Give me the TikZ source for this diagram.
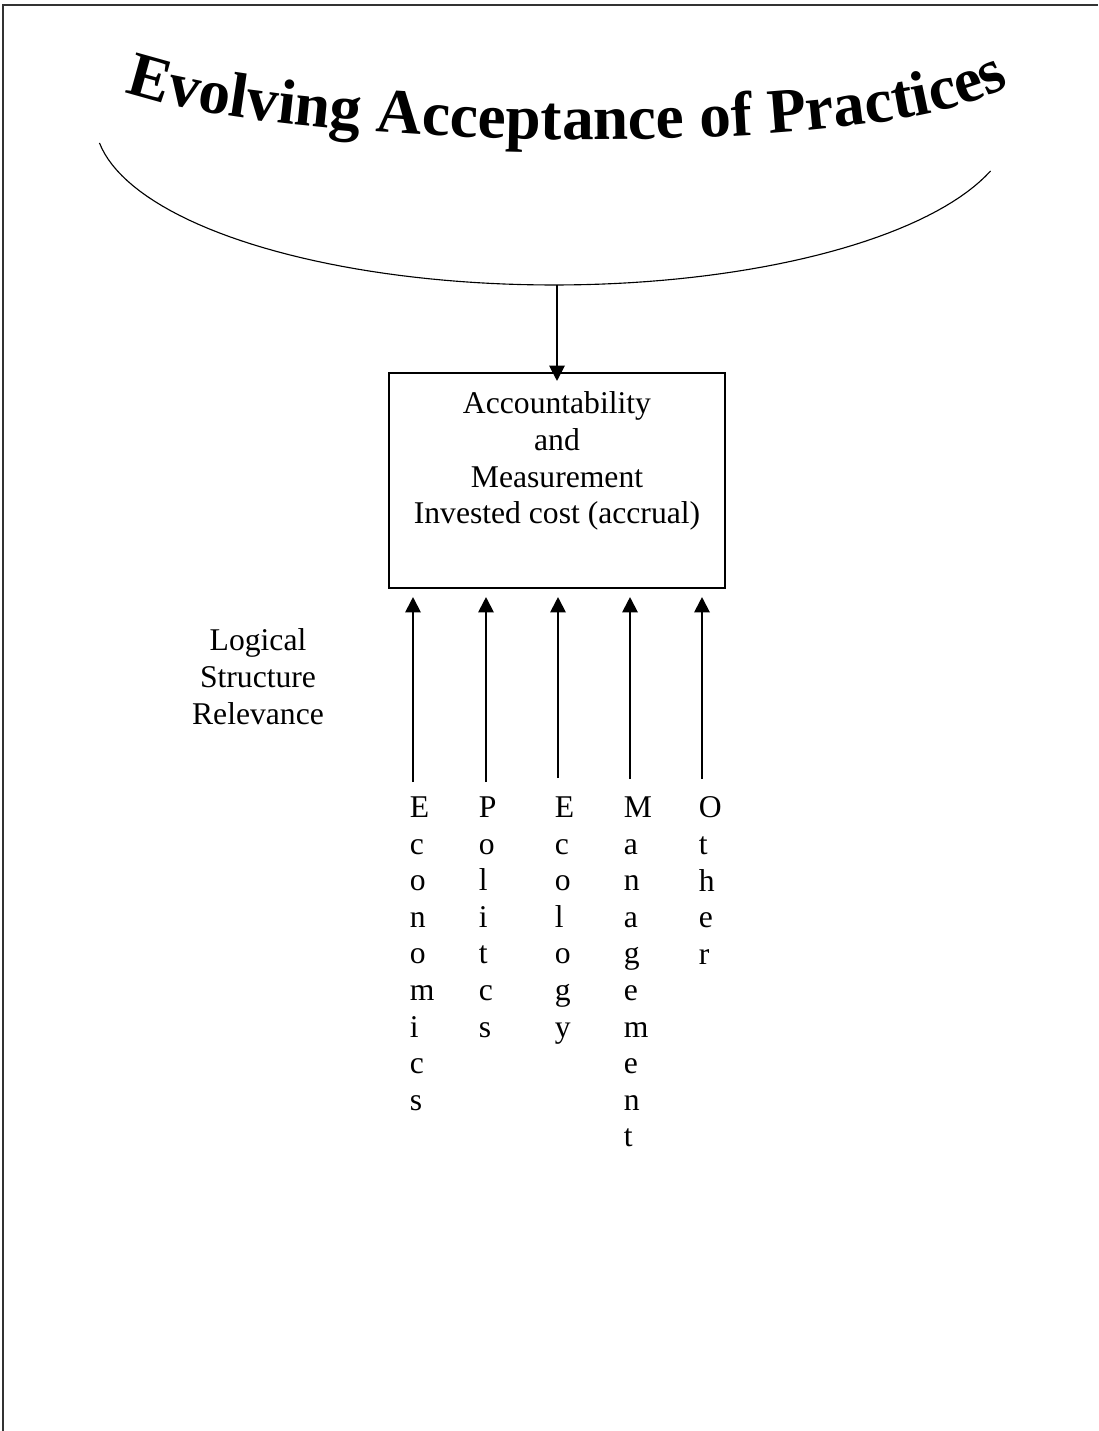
\documentclass[tikz,border=0pt]{standalone}
\usepackage{fontspec}
\setmainfont{Liberation Serif}
\usetikzlibrary{arrows.meta, decorations.text}

\begin{document}
\begin{tikzpicture}[x=0.025cm, y=-0.025cm, >={Triangle[length=11pt, width=11pt]}, line width=1.4pt,
        label node/.style={inner sep=0pt, align=center, font=\fontsize{22.5}{26}\selectfont},
        column node/.style={inner sep=0pt, anchor=north west, align=left, font=\fontsize{22.5}{26}\selectfont}]
    \useasboundingbox (0,0) rectangle (1098,1431);

    % Frame
    \draw[black!80] (3,1431) -- (3,5) -- (1098,5);

    % Title and arch
    \coordinate (t0) at (114,88);
    \coordinate (t1) at (262,150);
    \coordinate (t2) at (905,166);
    \coordinate (t3) at (1018,80);
    \path[decorate, decoration={text along path, text align=center,
        text={|\fontsize{45}{50}\selectfont\bfseries|Evolving Acceptance of Practices}}]
        (t0) .. controls (t1) and (t2) .. (t3);
    \draw[line width=0.8pt] plot[domain=18:172, samples=80] ({554+459*cos(\x)}, {120+165*sin(\x)});
    \coordinate (archbot) at (557,285);

    % Nodes
    \node[draw, minimum width=8.4cm, minimum height=5.375cm] (box) at (557,480.5) {};
    \node[label node, anchor=north] (boxtext) at (557,391) {Accountability\\and\\Measurement\\Invested cost (accrual)};
    \node[label node, anchor=north] (logic) at (258,628) {Logical\\Structure\\Relevance};

    \node[column node] (econ) at (409,796) {E\\c\\o\\n\\o\\m\\i\\c\\s};
    \node[column node] (poli) at (478,796) {P\\o\\l\\i\\t\\c\\s};
    \node[column node] (ecol) at (554,796) {E\\c\\o\\l\\o\\g\\y};
    \node[column node] (mgmt) at (623,796) {M\\a\\n\\a\\g\\e\\m\\e\\n\\t};
    \node[column node] (other) at (698,796) {O\\t\\h\\e\\r};

    \coordinate (econfoot) at (413,782);
    \coordinate (polifoot) at (486,782);
    \coordinate (ecolfoot) at (558,778);
    \coordinate (mgmtfoot) at (630,779);
    \coordinate (otherfoot) at (702,779);

    % Arrows
    \draw[->, shorten >=-6.4pt] (archbot) -- (box.north);
    \draw[->, shorten >=5.7pt] (econfoot) -- (econfoot |- box.south);
    \draw[->, shorten >=5.7pt] (polifoot) -- (polifoot |- box.south);
    \draw[->, shorten >=5.7pt] (ecolfoot) -- (ecolfoot |- box.south);
    \draw[->, shorten >=5.7pt] (mgmtfoot) -- (mgmtfoot |- box.south);
    \draw[->, shorten >=5.7pt] (otherfoot) -- (otherfoot |- box.south);
\end{tikzpicture}
\end{document}
